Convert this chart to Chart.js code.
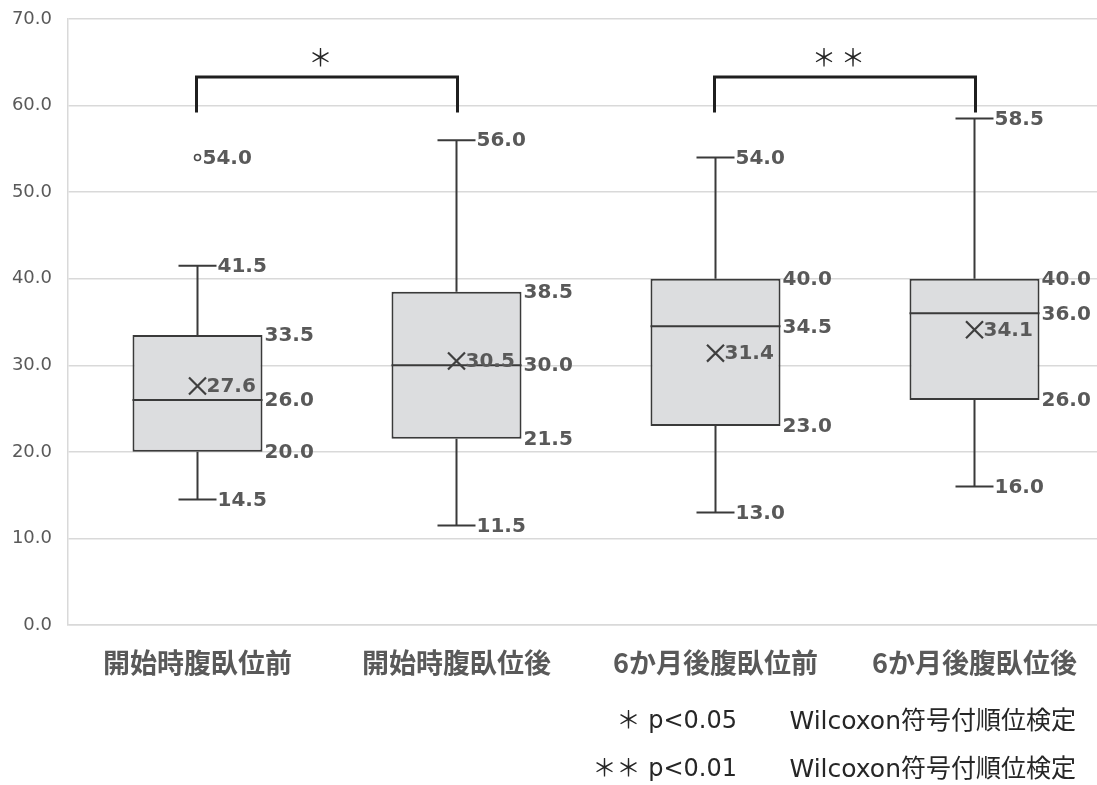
<!DOCTYPE html>
<html lang="ja">
<head>
<meta charset="utf-8">
<title>腹臥位前後の比較</title>
<script src="https://cdn.jsdelivr.net/npm/chart.js@4.4.1/dist/chart.umd.min.js"></script>
<style>
  html, body { margin: 0; padding: 0; background: #ffffff; overflow: hidden; }
  #chart { display: block; }
</style>
</head>
<body>
<canvas id="chart" width="1104" height="785" style="width:1104px;height:785px"></canvas>
<script>
// Five-number summaries per group
const categories = ['開始時腹臥位前', '開始時腹臥位後', '6か月後腹臥位前', '6か月後腹臥位後'];
const lowerWhisker = [14.5, 11.5, 13.0, 16.0];
const quartile1 = [20.0, 21.5, 23.0, 26.0];
const medians = [26.0, 30.0, 34.5, 36.0];
const quartile3 = [33.5, 38.5, 40.0, 40.0];
const upperWhisker = [41.5, 56.0, 54.0, 58.5];
const means = [27.6, 30.5, 31.4, 34.1];
const outliers = [[54.0], [], [], []];

// Axis ticks
const yTickValues = [0, 10, 20, 30, 40, 50, 60, 70];

// Paired comparisons and notes
const comparisons = [
  { from: 0, to: 1, mark: '＊' },
  { from: 2, to: 3, mark: '＊＊' }
];
const footnotes = [
  { level: '＊ p<0.05', test: 'Wilcoxon符号付順位検定' },
  { level: '＊＊ p<0.01', test: 'Wilcoxon符号付順位検定' }
];

const LABEL_FONT = 'bold 20px "DejaVu Sans", "Noto Sans CJK JP", sans-serif';
const LABEL_COLOR = '#595959';
const LINE_COLOR = '#3a3a3a';
const fmt = v => v.toFixed(1);

const outlierPoints = [];
outliers.forEach((list, i) => list.forEach(v => outlierPoints.push({ x: categories[i], y: v })));

// Whiskers, caps and median lines, drawn right after the boxes
const boxLines = {
  id: 'boxLines',
  afterDatasetDraw(chart, args) {
    if (args.index !== 0) return;
    const { ctx, scales: { x, y } } = chart;
    const bars = chart.getDatasetMeta(0).data;
    const capHalf = 19;
    ctx.save();
    ctx.strokeStyle = LINE_COLOR;
    ctx.lineWidth = 2;
    categories.forEach((c, i) => {
      const cx = x.getPixelForValue(i);
      const half = bars[i].width / 2;
      const yLo = y.getPixelForValue(lowerWhisker[i]);
      const yQ1 = y.getPixelForValue(quartile1[i]);
      const yMed = y.getPixelForValue(medians[i]);
      const yQ3 = y.getPixelForValue(quartile3[i]);
      const yHi = y.getPixelForValue(upperWhisker[i]);
      ctx.beginPath();
      ctx.moveTo(cx, yQ3); ctx.lineTo(cx, yHi);
      ctx.moveTo(cx, yQ1); ctx.lineTo(cx, yLo);
      ctx.moveTo(cx - capHalf, yHi); ctx.lineTo(cx + capHalf, yHi);
      ctx.moveTo(cx - capHalf, yLo); ctx.lineTo(cx + capHalf, yLo);
      ctx.moveTo(cx - half, yMed); ctx.lineTo(cx + half, yMed);
      ctx.stroke();
    });
    ctx.restore();
  }
};

// Value labels, significance brackets and footnotes
const annotations = {
  id: 'annotations',
  afterDatasetsDraw(chart) {
    const { ctx, scales: { x, y } } = chart;
    const bars = chart.getDatasetMeta(0).data;
    const capHalf = 19;
    ctx.save();
    ctx.font = LABEL_FONT;
    ctx.fillStyle = LABEL_COLOR;
    ctx.textAlign = 'left';
    ctx.textBaseline = 'middle';
    const put = (v, px) => ctx.fillText(fmt(v), px, y.getPixelForValue(v) + 1);
    categories.forEach((c, i) => {
      const cx = x.getPixelForValue(i);
      const right = cx + bars[i].width / 2;
      put(quartile3[i], right + 2);
      put(medians[i], right + 2);
      put(quartile1[i], right + 2);
      put(upperWhisker[i], cx + capHalf + 1);
      put(lowerWhisker[i], cx + capHalf + 1);
      put(means[i], cx + 9);
      outliers[i].forEach(v => put(v, cx + 5));
    });

    // significance brackets
    const topY = y.getPixelForValue(63.3);
    const legY = y.getPixelForValue(59.2);
    ctx.strokeStyle = '#1f1f1f';
    ctx.lineWidth = 3;
    ctx.lineCap = 'butt';
    comparisons.forEach(cmp => {
      const x1 = x.getPixelForValue(cmp.from) - 1;
      const x2 = x.getPixelForValue(cmp.to) + 1;
      ctx.beginPath();
      ctx.moveTo(x1, legY); ctx.lineTo(x1, topY); ctx.lineTo(x2, topY); ctx.lineTo(x2, legY);
      ctx.stroke();
      ctx.fillStyle = '#262626';
      ctx.font = '24px "Noto Sans CJK JP", sans-serif';
      ctx.textAlign = 'center';
      ctx.textBaseline = 'middle';
      ctx.letterSpacing = '5px';
      ctx.fillText(cmp.mark, (x1 + x2) / 2 - 4, topY - 20);
      ctx.letterSpacing = '0px';
    });
    ctx.restore();
  },
  afterDraw(chart) {
    const { ctx } = chart;
    ctx.save();
    ctx.fillStyle = '#262626';
    ctx.textBaseline = 'middle';
    ctx.textAlign = 'right';
    footnotes.forEach((n, k) => {
      const yy = 722 + k * 48;
      ctx.font = '24px "DejaVu Sans", "Noto Sans CJK JP", sans-serif';
      ctx.fillText(n.level, 737, yy);
      ctx.font = '25px "DejaVu Sans", "Noto Sans CJK JP", sans-serif';
      ctx.fillText(n.test, 1076, yy);
    });
    ctx.restore();
  }
};

new Chart(document.getElementById('chart'), {
  type: 'bar',
  data: {
    labels: categories,
    datasets: [
      {
        label: '四分位範囲',
        data: categories.map((c, i) => [quartile1[i], quartile3[i]]),
        backgroundColor: '#dcdddf',
        borderColor: LINE_COLOR,
        borderWidth: 2,
        borderSkipped: false,
        categoryPercentage: 1.0,
        barPercentage: 0.502,
        order: 3
      },
      {
        type: 'line',
        label: '平均',
        data: means,
        showLine: false,
        pointStyle: 'crossRot',
        pointRadius: 12,
        pointBorderWidth: 2.2,
        pointBorderColor: '#3f3f3f',
        order: 1
      },
      {
        type: 'line',
        label: '外れ値',
        data: outlierPoints,
        showLine: false,
        pointStyle: 'circle',
        pointRadius: 3,
        pointBorderWidth: 1.6,
        pointBorderColor: '#4a4a4a',
        pointBackgroundColor: '#ffffff',
        order: 2
      }
    ]
  },
  options: {
    responsive: false,
    animation: false,
    layout: { autoPadding: false, padding: { top: 19, left: 0, right: 0, bottom: 0 } },
    plugins: {
      legend: { display: false },
      tooltip: { enabled: false }
    },
    scales: {
      x: {
        offset: true,
        grid: { display: false, drawTicks: false },
        border: { display: true, color: '#d9d9d9', width: 1.5 },
        ticks: {
          color: LABEL_COLOR,
          font: { family: '"Noto Sans CJK JP", sans-serif', size: 27, weight: 'bold' },
          padding: 22,
          maxRotation: 0
        },
        afterFit(scale) { scale.height = 160; scale.paddingLeft = 0; scale.paddingRight = 0; }
      },
      y: {
        min: 0,
        max: 70,
        afterBuildTicks(scale) { scale.ticks = yTickValues.map(v => ({ value: v })); },
        grid: { color: '#d9d9d9', lineWidth: 1.5, drawTicks: false },
        border: { display: true, color: '#d9d9d9', width: 1.5 },
        ticks: {
          color: LABEL_COLOR,
          font: { family: '"DejaVu Sans", sans-serif', size: 18 },
          padding: 16,
          callback: v => fmt(v)
        },
        afterFit(scale) { scale.width = 68; scale.paddingTop = 0; scale.paddingBottom = 0; }
      }
    }
  },
  plugins: [boxLines, annotations]
});
</script>
</body>
</html>
